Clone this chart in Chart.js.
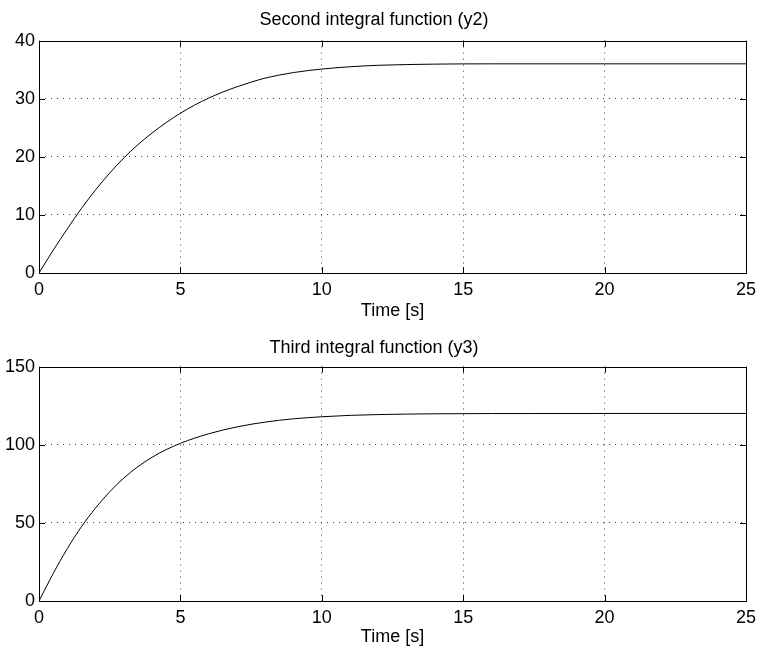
<!DOCTYPE html>
<html>
<head>
<meta charset="utf-8">
<script src="https://cdn.jsdelivr.net/npm/chart.js@4"></script>
<style>
  html, body { margin: 0; padding: 0; background: #fff; }
  #wrap { position: relative; width: 762px; height: 653px; }
  canvas { position: absolute; left: 0; }
</style>
</head>
<body>
<div id="wrap">
  <canvas id="topChart" width="762" height="327" style="top:0"></canvas>
  <canvas id="bottomChart" width="762" height="326" style="top:327px"></canvas>
</div>
<script>
// time samples [s]
const time = [0, 0.5, 1, 1.5, 2, 2.5, 3, 3.5, 4, 4.5, 5, 5.5, 6, 6.5, 7, 7.5, 8, 9, 10, 11, 12, 14, 16, 20, 25];
// second integral y2
const y2 = [0, 3.9, 7.6, 11.1, 14.3, 17.2, 19.8, 22.1, 24.1, 25.9, 27.5, 28.9, 30.1, 31.15, 32.05, 32.85, 33.55, 34.5, 35.1, 35.5, 35.75, 35.95, 36, 36, 36];
// third integral y3
const y3 = [0, 17.5, 33.5, 47.5, 59.5, 69.9, 78.7, 86.0, 92.0, 96.9, 100.9, 104.2, 107.0, 109.4, 111.4, 113.1, 114.5, 116.6, 117.9, 118.8, 119.3, 119.8, 119.95, 120, 120];

const xTicks = [0, 5, 10, 15, 20, 25];
const y2Ticks = [0, 10, 20, 30, 40];
const y3Ticks = [0, 50, 100, 150];

const FONT = { family: '"Liberation Sans", Arial, Helvetica, sans-serif', size: 18 };

// black axes box with inward tick marks
const boxPlugin = {
  id: 'box',
  afterDatasetsDraw(chart) {
    const { ctx, chartArea: a, scales } = chart;
    ctx.save();
    ctx.strokeStyle = '#000';
    ctx.lineWidth = 1;
    ctx.beginPath();
    scales.x.ticks.forEach(t => {
      const px = Math.round(scales.x.getPixelForValue(t.value)) + 0.5;
      ctx.moveTo(px, a.bottom); ctx.lineTo(px, a.bottom - 6);
      ctx.moveTo(px, a.top); ctx.lineTo(px, a.top + 6);
    });
    scales.y.ticks.forEach(t => {
      const py = Math.round(scales.y.getPixelForValue(t.value)) + 0.5;
      ctx.moveTo(a.left, py); ctx.lineTo(a.left + 6, py);
      ctx.moveTo(a.right, py); ctx.lineTo(a.right - 6, py);
    });
    ctx.stroke();
    ctx.strokeRect(Math.round(a.left) + 0.5, Math.round(a.top) + 0.5,
      Math.round(a.right - a.left), Math.round(a.bottom - a.top));
    ctx.restore();
  }
};

function gridColor(ticks) {
  return c => (c.tick.value === ticks[0] || c.tick.value === ticks[ticks.length - 1])
    ? 'rgba(0,0,0,0)' : 'rgba(0,0,0,0.75)';
}

function makeChart(id, title, ys, yTicks, titlePad, xHeight) {
  const ctx = document.getElementById(id).getContext('2d');
  return new Chart(ctx, {
    type: 'line',
    data: {
      datasets: [{
        data: time.map((t, i) => ({ x: t, y: ys[i] })),
        borderColor: '#000',
        borderWidth: 1,
        pointRadius: 0,
        cubicInterpolationMode: 'monotone',
        fill: false
      }]
    },
    options: {
      responsive: false,
      animation: false,
      devicePixelRatio: 1,
      layout: { padding: { left: 0, right: 14, top: 0, bottom: 0 } },
      plugins: {
        legend: { display: false },
        tooltip: { enabled: false },
        title: {
          display: true,
          text: title,
          color: '#000',
          font: { ...FONT, weight: 'normal' },
          padding: titlePad
        }
      },
      scales: {
        x: {
          type: 'linear',
          min: xTicks[0],
          max: xTicks[xTicks.length - 1],
          afterBuildTicks: s => { s.ticks = xTicks.map(v => ({ value: v })); },
          afterFit: s => { s.height = xHeight; },
          border: { display: false, dash: [1, 5] },
          grid: { drawTicks: false, color: gridColor(xTicks), lineWidth: 1 },
          ticks: { color: '#000', font: FONT, padding: 6, maxRotation: 0 },
          title: {
            display: true,
            text: 'Time [s]',
            color: '#000',
            font: FONT,
            padding: { top: 0, bottom: 5 }
          }
        },
        y: {
          min: yTicks[0],
          max: yTicks[yTicks.length - 1],
          afterBuildTicks: s => { s.ticks = yTicks.map(v => ({ value: v })); },
          afterFit: s => { s.width = 39; },
          border: { display: false, dash: [1, 5] },
          grid: { drawTicks: false, color: gridColor(yTicks), lineWidth: 1 },
          ticks: { color: '#000', font: FONT, padding: 4 }
        }
      }
    },
    plugins: [boxPlugin]
  });
}

makeChart('topChart', 'Second integral function (y2)', y2, y2Ticks, { top: 9, bottom: 10 }, 54);
makeChart('bottomChart', 'Third integral function (y3)', y3, y3Ticks, { top: 10, bottom: 8 }, 52);
</script>
</body>
</html>
